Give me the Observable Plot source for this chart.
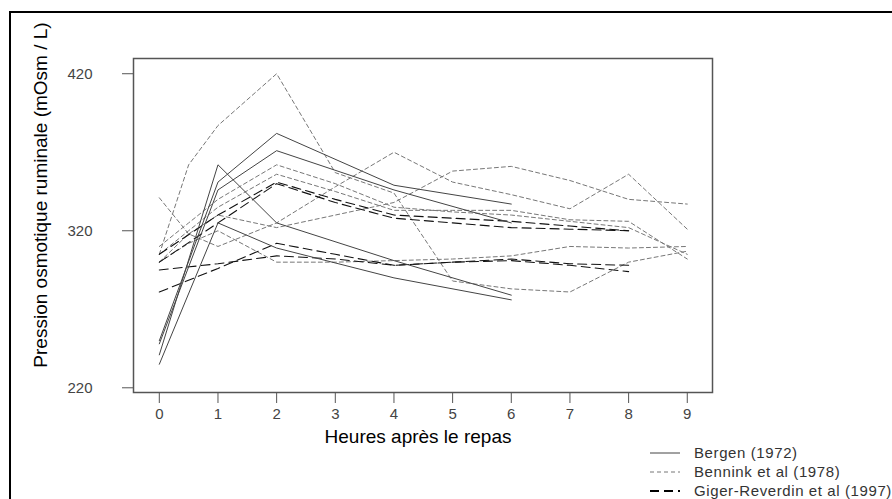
<!DOCTYPE html>
<html>
<head>
<meta charset="utf-8">
<script src="https://cdn.jsdelivr.net/npm/d3@7"></script>
<script src="https://cdn.jsdelivr.net/npm/@observablehq/plot@0.6"></script>
<style>
  html, body { margin: 0; padding: 0; background: #fff; }
  #wrap { position: relative; width: 892px; height: 499px; overflow: hidden; font-family: "Liberation Sans", Arial, sans-serif; }
  #border { position: absolute; left: 9px; top: 11px; width: 2000px; height: 2000px; border-left: 2px solid #000; border-top: 2px solid #000; }
  #chart { position: absolute; left: 0; top: 0; }
  .lbl { position: absolute; color: #000; white-space: nowrap; }
  #legend { position: absolute; left: 0; top: 0; }
</style>
</head>
<body>
<div id="wrap">
  <div id="border"></div>
  <div id="chart"></div>
</div>
<script>
// ---- data ----
const bergenHours = [0, 1, 2, 4, 6];
const bergen1 = [250, 351, 382, 349, 337];
const bergen2 = [248, 346, 371, 346, 325];
const bergen3 = [241, 362, 325, 301, 279];
const bergen4 = [235, 325, 309, 290, 276];

const benninkHours = [0, 0.5, 1, 2, 3, 4, 5, 6, 7, 8, 9];
const bennink1 = [305, 362, 387, 420, 357, 344, 288, 283, 281, 300, 307];
const bennink2 = [341, 318, 310, 325, 348, 370, 351, 343, 334, 356, 321];
const bennink3 = [300, 318, 330, 322, 330, 338, 358, 361, 352, 340, 337];
const bennink4 = [310, 325, 340, 362, 350, 335, 332, 330, 326, 322, 305];
const bennink5 = [305, 320, 335, 356, 345, 333, 333, 333, 327, 326, 302];
const bennink6 = [300, 312, 320, 300, 300, 301, 302, 304, 310, 309, 310];

const gigerHours = [0, 1, 2, 3, 4, 5, 6, 7, 8];
const giger1 = [305, 330, 351, 340, 330, 328, 326, 323, 320];
const giger2 = [300, 325, 350, 338, 328, 325, 322, 321, 320];
const giger3 = [295, 299, 304, 302, 298, 300, 302, 299, 298];
const giger4 = [281, 296, 312, 305, 298, 300, 301, 298, 294];

const xTicks = [0, 1, 2, 3, 4, 5, 6, 7, 8, 9];
const yTicks = [220, 320, 420];
const xLabel = "Heures après le repas";
const yLabel = "Pression osmotique ruminale (mOsm / L)";
const legendItems = ["Bergen (1972)", "Bennink et al (1978)", "Giger-Reverdin et al (1997)"];

// ---- build long tables ----
function toRows(hours, series, prefix) {
  const rows = [];
  series.forEach((vals, i) => vals.forEach((v, j) => rows.push({id: prefix + i, t: hours[j], v})));
  return rows;
}
const bergen = toRows(bergenHours, [bergen1, bergen2, bergen3, bergen4], "b");
const bennink = toRows(benninkHours, [bennink1, bennink2, bennink3, bennink4, bennink5, bennink6], "n");
const giger = toRows(gigerHours, [giger1, giger2, giger3, giger4], "g");

const plot = Plot.plot({
  width: 892,
  height: 499,
  marginLeft: 133,
  marginRight: 180,
  marginTop: 58,
  marginBottom: 107,
  style: {fontFamily: "Liberation Sans, Arial, sans-serif", background: "transparent"},
  x: {domain: [-0.44, 9.43]},
  y: {domain: [217, 429.7]},
  marks: [
    Plot.line(bennink, {x: "t", y: "v", z: "id", stroke: "#777", strokeWidth: 1, strokeDasharray: "4,3"}),
    Plot.line(giger, {x: "t", y: "v", z: "id", stroke: "#111", strokeWidth: 1.1, strokeDasharray: "9,5"}),
    Plot.line(bergen, {x: "t", y: "v", z: "id", stroke: "#444", strokeWidth: 1}),
    Plot.frame({stroke: "#555", strokeWidth: 1.5}),
    Plot.axisX({ticks: xTicks, tickSize: 11, tickPadding: 5, fontSize: 15, stroke: "#555", color: "#444", label: null, tickFormat: d => d}),
    Plot.axisY({ticks: yTicks, tickSize: 11, tickPadding: 30, fontSize: 15, stroke: "#555", color: "#444", label: null, tickFormat: d => d})
  ]
});
document.getElementById("chart").appendChild(plot);

const wrap = document.getElementById("wrap");
// axis labels
const xl = document.createElement("div");
xl.className = "lbl";
xl.textContent = xLabel;
xl.style.fontSize = "19px";
xl.style.left = "418px";
xl.style.top = "426px";
xl.style.transform = "translateX(-50%)";
wrap.appendChild(xl);

const yl = document.createElement("div");
yl.className = "lbl";
yl.textContent = yLabel;
yl.style.fontSize = "19px";
yl.style.left = "41px";
yl.style.top = "195px";
yl.style.transform = "translate(-50%, -50%) rotate(-90deg)";
wrap.appendChild(yl);

// legend
const ns = "http://www.w3.org/2000/svg";
const lg = document.createElementNS(ns, "svg");
lg.setAttribute("width", 892); lg.setAttribute("height", 499);
lg.setAttribute("id", "legend");
const styles = [
  {stroke: "#444", dash: null, w: 1},
  {stroke: "#777", dash: "4,3", w: 1},
  {stroke: "#000", dash: "9,5", w: 2.2}
];
const ly = [453, 472, 491];
legendItems.forEach((name, i) => {
  const l = document.createElementNS(ns, "line");
  l.setAttribute("x1", 650); l.setAttribute("x2", 680);
  l.setAttribute("y1", ly[i]); l.setAttribute("y2", ly[i]);
  l.setAttribute("stroke", styles[i].stroke);
  l.setAttribute("stroke-width", styles[i].w);
  if (styles[i].dash) l.setAttribute("stroke-dasharray", styles[i].dash);
  lg.appendChild(l);
  const t = document.createElementNS(ns, "text");
  t.setAttribute("x", 694); t.setAttribute("y", ly[i]);
  t.setAttribute("dy", "0.35em");
  t.setAttribute("font-size", 15);
  t.setAttribute("letter-spacing", "0.6px");
  t.setAttribute("font-family", "Liberation Sans, Arial, sans-serif");
  t.setAttribute("fill", "#333");
  t.textContent = name;
  lg.appendChild(t);
});
wrap.appendChild(lg);
</script>
</body>
</html>
